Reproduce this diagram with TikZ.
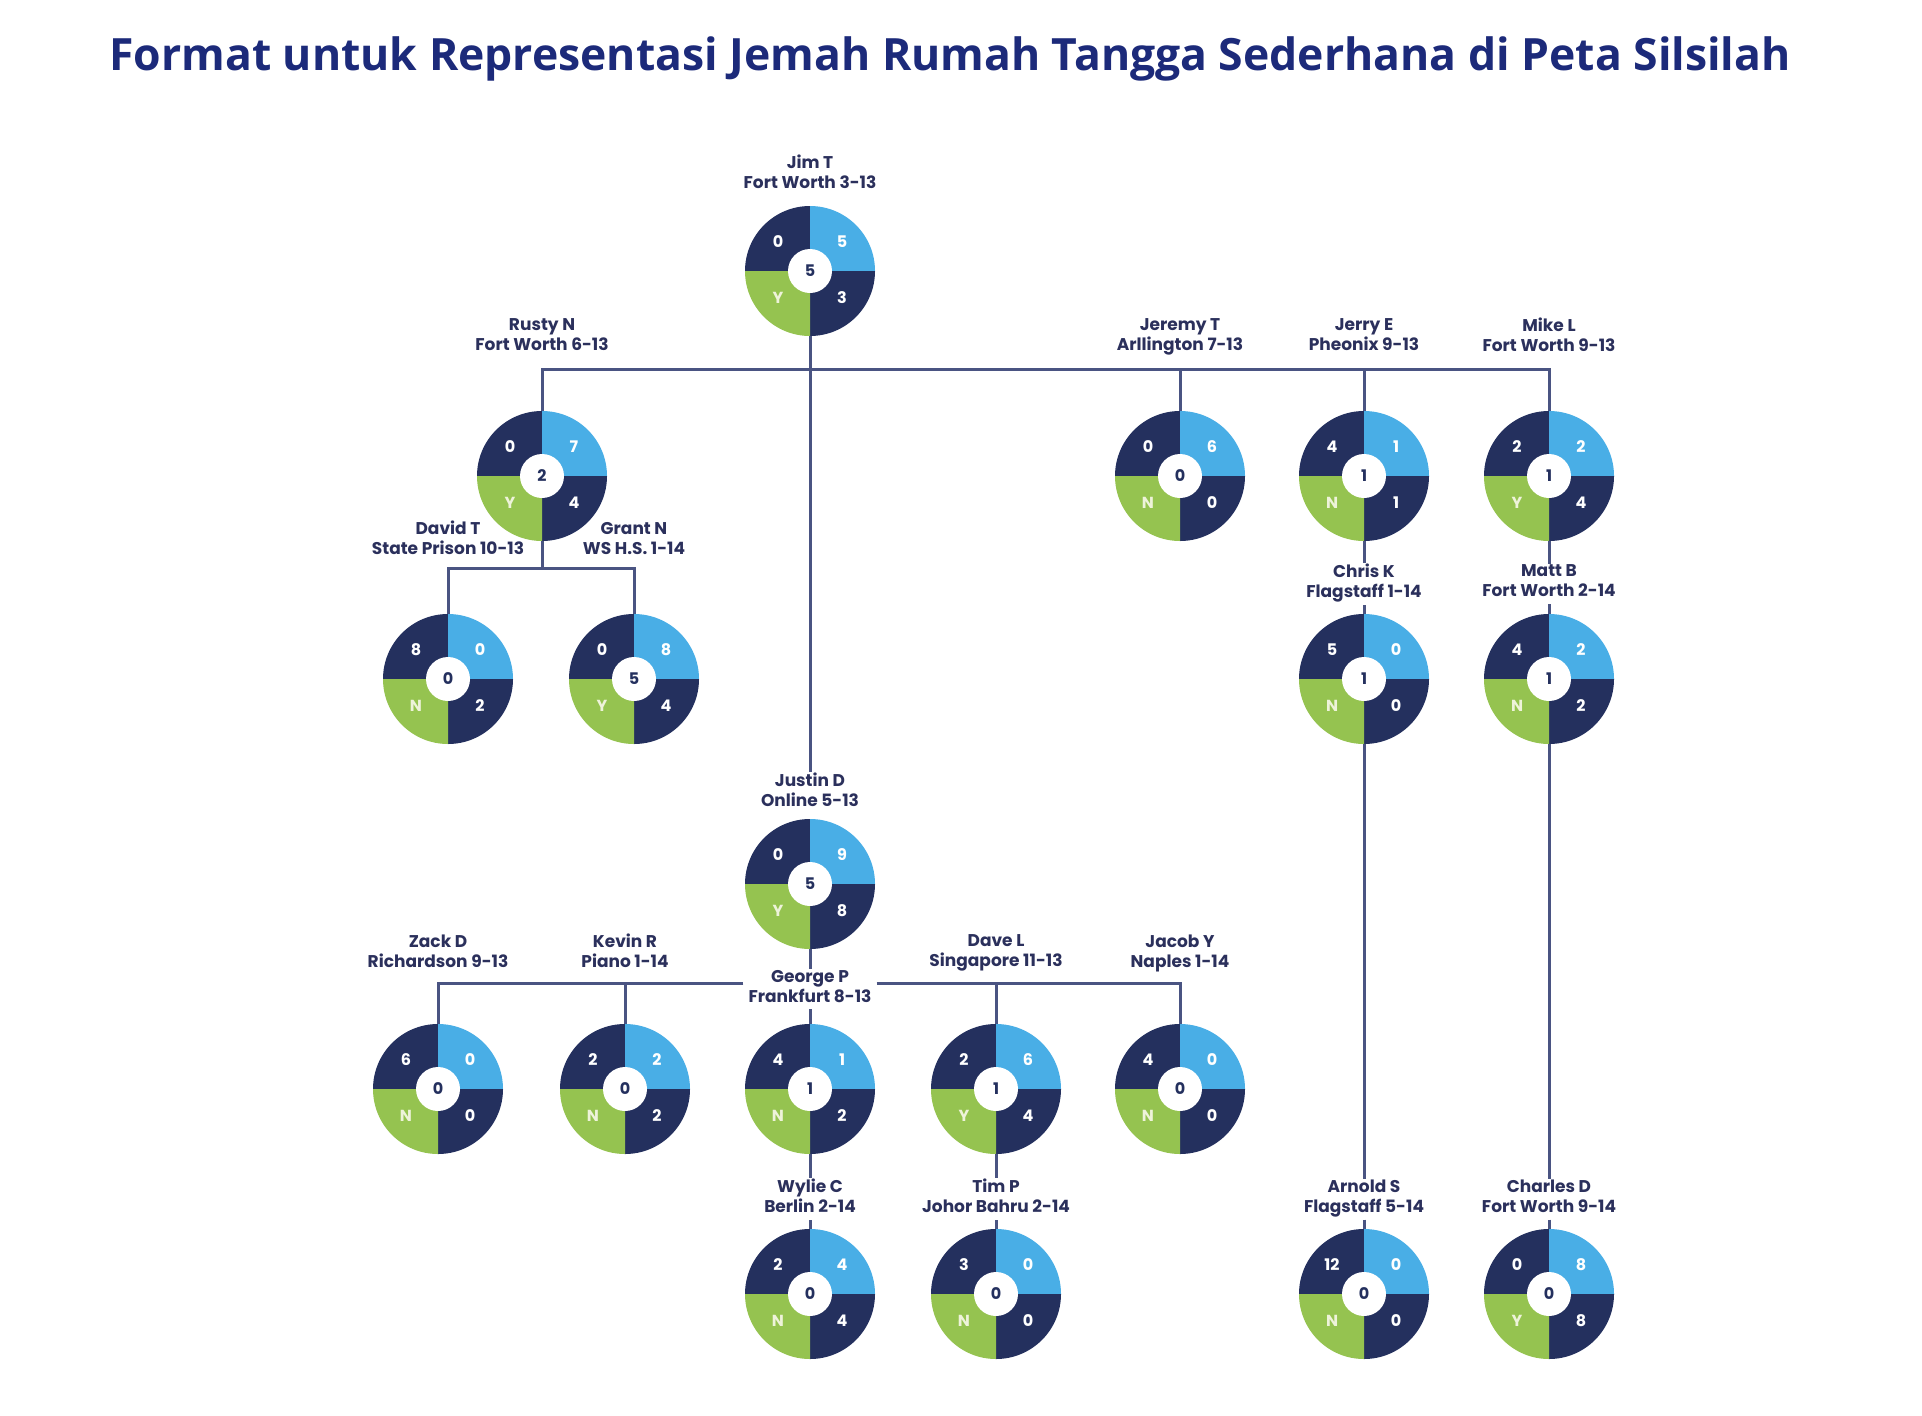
\documentclass[tikz,border=0pt]{standalone}
\usepackage{fontspec}
\setmainfont{Poppins}
\newfontfamily\titlefont{Open Sans}
\definecolor{qnavy}{HTML}{24305E}
\definecolor{qblue}{HTML}{49AEE6}
\definecolor{qgreen}{HTML}{95C350}
\definecolor{yncol}{HTML}{EEF3DA}
\definecolor{lncol}{HTML}{4A5482}
\definecolor{labcol}{HTML}{2B305C}
\definecolor{titcol}{HTML}{1C2A7A}
\tikzset{
 pnode/.style={circle, minimum size=130pt, inner sep=0pt, outer sep=0pt},
 hole/.style={circle, fill=white, minimum size=44pt, inner sep=0pt, text=qnavy, font=\fontsize{16}{16}\selectfont\bfseries},
 qtxt/.style={text=white, font=\fontsize{16}{16}\selectfont\bfseries, inner sep=0pt},
 yntxt/.style={qtxt, text=yncol},
 lab/.style={align=center, text=labcol, font=\fontsize{17}{20}\selectfont\bfseries, inner sep=1pt,
   execute at begin node=\strut, execute at end node=\strut},
 conn/.style={draw=lncol, line width=3pt},
}
\newcommand\pers[8]{%
 \node[pnode] (#1) at (#2,-#3) {};
 \fill[qnavy] (#1.center) -- (#1.west) arc[start angle=180,end angle=90,radius=65pt] -- cycle;
 \fill[qblue] (#1.center) -- (#1.north) arc[start angle=90,end angle=0,radius=65pt] -- cycle;
 \fill[qnavy] (#1.center) -- (#1.east) arc[start angle=0,end angle=-90,radius=65pt] -- cycle;
 \fill[qgreen] (#1.center) -- (#1.south) arc[start angle=-90,end angle=-180,radius=65pt] -- cycle;
 \node[hole] at (#1.center) {#8};
 \node[qtxt] at ([shift={(-32pt,29pt)}]#1.center) {#4};
 \node[qtxt] at ([shift={(32pt,29pt)}]#1.center) {#5};
 \node[yntxt] at ([shift={(-32pt,-27pt)}]#1.center) {#6};
 \node[qtxt] at ([shift={(32pt,-27pt)}]#1.center) {#7};
}
\begin{document}
\begin{tikzpicture}[x=1pt,y=1pt]
\useasboundingbox (0,0) rectangle (1922,-1416);
\fill[white] (0,0) rectangle (1922,-1416);
\node[font=\titlefont\fontsize{44.5}{52}\selectfont\bfseries, text=titcol, inner sep=0pt] (title) at (950,-59) {Format untuk Representasi Jemah Rumah Tangga Sederhana di Peta Silsilah};

% people
\pers{Jim}{810}{271}{0}{5}{Y}{3}{5}
\pers{Rusty}{542}{476}{0}{7}{Y}{4}{2}
\pers{Jeremy}{1180}{476}{0}{6}{N}{0}{0}
\pers{Jerry}{1364}{476}{4}{1}{N}{1}{1}
\pers{Mike}{1549}{476}{2}{2}{Y}{4}{1}
\pers{David}{448}{679}{8}{0}{N}{2}{0}
\pers{Grant}{634}{679}{0}{8}{Y}{4}{5}
\pers{Chris}{1364}{679}{5}{0}{N}{0}{1}
\pers{Matt}{1549}{679}{4}{2}{N}{2}{1}
\pers{Justin}{810}{884}{0}{9}{Y}{8}{5}
\pers{Zack}{438}{1089}{6}{0}{N}{0}{0}
\pers{Kevin}{625}{1089}{2}{2}{N}{2}{0}
\pers{George}{810}{1089}{4}{1}{N}{2}{1}
\pers{Dave}{996}{1089}{2}{6}{Y}{4}{1}
\pers{Jacob}{1180}{1089}{4}{0}{N}{0}{0}
\pers{Wylie}{810}{1294}{2}{4}{N}{4}{0}
\pers{Tim}{996}{1294}{3}{0}{N}{0}{0}
\pers{Arnold}{1364}{1294}{12}{0}{N}{0}{0}
\pers{Charles}{1549}{1294}{0}{8}{Y}{8}{0}

% labels
\node[lab] (JimL) at (810,-175) {Jim T\\Fort Worth 3-13};
\node[lab] (RustyL) at (542,-337.5) {Rusty N\\Fort Worth 6-13};
\node[lab] (JeremyL) at (1180,-337.5) {Jeremy T\\Arllington 7-13};
\node[lab] (JerryL) at (1364,-337.5) {Jerry E\\Pheonix 9-13};
\node[lab] (MikeL) at (1549,-337.5) {Mike L\\Fort Worth 9-13};
\node[lab] (DavidL) at (448,-541) {David T\\State Prison 10-13};
\node[lab] (GrantL) at (634,-541) {Grant N\\WS H.S. 1-14};
\node[lab] (ChrisL) at (1364,-584) {Chris K\\Flagstaff 1-14};
\node[lab] (MattL) at (1549,-584) {Matt B\\Fort Worth 2-14};
\node[lab] (JustinL) at (810,-793) {Justin D\\Online 5-13};
\node[lab] (ZackL) at (438,-954) {Zack D\\Richardson 9-13};
\node[lab] (KevinL) at (625,-954) {Kevin R\\Piano 1-14};
\node[lab] (GeorgeL) at (810,-989) {George P\\Frankfurt 8-13};
\node[lab] (DaveL) at (996,-954) {Dave L\\Singapore 11-13};
\node[lab] (JacobL) at (1180,-954) {Jacob Y\\Naples 1-14};
\node[lab] (WylieL) at (810,-1199) {Wylie C\\Berlin 2-14};
\node[lab] (TimL) at (996,-1199) {Tim P\\Johor Bahru 2-14};
\node[lab] (ArnoldL) at (1364,-1199) {Arnold S\\Flagstaff 5-14};
\node[lab] (CharlesL) at (1549,-1199) {Charles D\\Fort Worth 9-14};

% connectors
\coordinate (topbar) at (0,-369);
\coordinate (rbar) at (0,-568);
\coordinate (bbar) at (0,-983);
\draw[conn] (Jim.south) -- (JustinL.north);
\draw[conn] (Rusty.north) -- (Rusty.north |- topbar) -- (Mike.north |- topbar) -- (Mike.north);
\draw[conn] (Jeremy.north) -- (Jeremy.north |- topbar);
\draw[conn] (Jerry.north) -- (Jerry.north |- topbar);
\draw[conn] (Rusty.south) -- (Rusty.south |- rbar);
\draw[conn] (David.north) -- (David.north |- rbar) -- (Grant.north |- rbar) -- (Grant.north);
\draw[conn] (Jerry.south) -- (ChrisL.north);
\draw[conn] (ChrisL.south) -- (Chris.north);
\draw[conn] (Chris.south) -- (ArnoldL.north);
\draw[conn] (ArnoldL.south) -- (Arnold.north);
\draw[conn] (Mike.south) -- (MattL.north);
\draw[conn] (MattL.south) -- (Matt.north);
\draw[conn] (Matt.south) -- (CharlesL.north);
\draw[conn] (CharlesL.south) -- (Charles.north);
\draw[conn] (Justin.south) -- (GeorgeL.north);
\draw[conn] (GeorgeL.south) -- (George.north);
\draw[conn] ([xshift=-4pt]GeorgeL.west |- bbar) -- (Zack.north |- bbar) -- (Zack.north);
\draw[conn] (Kevin.north) -- (Kevin.north |- bbar);
\draw[conn] ([xshift=4pt]GeorgeL.east |- bbar) -- (Jacob.north |- bbar) -- (Jacob.north);
\draw[conn] (Dave.north) -- (Dave.north |- bbar);
\draw[conn] (George.south) -- (WylieL.north);
\draw[conn] (WylieL.south) -- (Wylie.north);
\draw[conn] (Dave.south) -- (TimL.north);
\draw[conn] (TimL.south) -- (Tim.north);
\end{tikzpicture}
\end{document}
